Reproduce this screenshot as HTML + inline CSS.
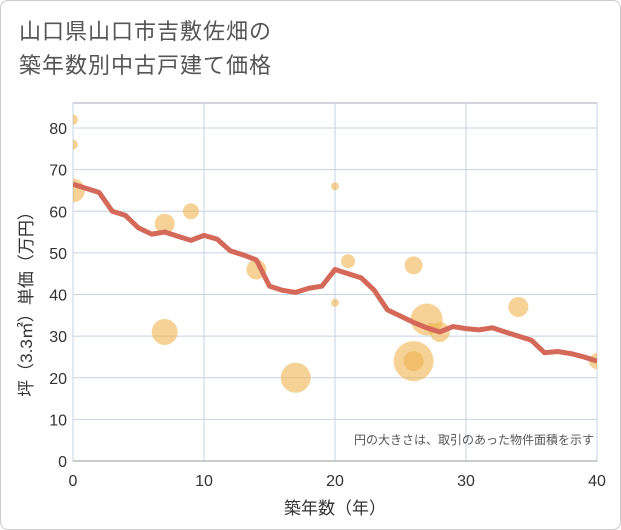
<!DOCTYPE html>
<html><head><meta charset="utf-8"><style>
body{margin:0;background:#fff;}
.wrap{width:619px;height:528px;border:1px solid #ccc;border-radius:8px;position:relative;overflow:hidden;font-family:"Liberation Sans","Noto Sans CJK JP",sans-serif;}
.title{position:absolute;left:18px;top:14px;font-size:22px;line-height:34px;color:#555;letter-spacing:1px;}
</style></head><body>
<div class="wrap">
<div class="title">山口県山口市吉敷佐畑の<br>築年数別中古戸建て価格</div>
<svg id="chart" width="621" height="530" style="position:absolute;left:-1px;top:-1px"><defs><clipPath id="pc"><rect x="73" y="103" width="524" height="358"/></clipPath></defs></svg>
</div>
<script>
const xTicks=[0,10,20,30,40];
const yTicks=[0,10,20,30,40,50,60,70,80];
const lineYears=[0,1,2,3,4,5,6,7,8,9,10,11,12,13,14,15,16,17,18,19,20,21,22,23,24,25,26,27,28,29,30,31,32,33,34,35,36,37,38,39,40];
const linePrices=[66.5,65.5,64.5,60,59,56,54.5,55,54,53,54.2,53.3,50.5,49.5,48.3,42,41,40.5,41.5,42,46,45,44,41,36.3,34.8,33.3,32,31,32.3,31.8,31.5,32,31,30,29,26,26.3,25.8,25,24];
const bubbleYears=[0,0,0,7,9,7,14,17,20,20,21,26,27,28,26,26,27.3,34,40];
const bubblePrices=[82,76,65,57,60,31,46,20,66,38,48,47,34,31,24,24,32,37,24];
const bubbleSizes=[5,5,12,10,8,13,10,15,4,4,7,9,16,10,20,10,5,10,8];
const svg=document.getElementById('chart');
const NS='http://www.w3.org/2000/svg';
const L=73,R=597,T=103,B=461;
const xs=v=>L+(R-L)*v/40;
const ys=v=>B-(B-128)*v/80;
function mk(t,a,par){const e=document.createElementNS(NS,t);for(const k in a)e.setAttribute(k,a[k]);(par||svg).appendChild(e);return e;}
let bg=mk('rect',{x:L,y:T,width:R-L,height:B-T,fill:'#fff',stroke:'#aab','stroke-width':1});


yTicks.forEach(v=>{
 let g=mk('line',{x1:L,x2:R,y1:ys(v),y2:ys(v),stroke:'#c5d3e3','stroke-width':1});
 
 
 let t=mk('text',{x:L-6,y:ys(v)+6,'text-anchor':'end','font-size':16,fill:'#333'});t.textContent=v;
 
 
});
xTicks.forEach(v=>{
 let g=mk('line',{x1:xs(v),x2:xs(v),y1:T,y2:B,stroke:'#c5d3e3','stroke-width':1});
 
 
 let t=mk('text',{x:xs(v),y:B+25,'text-anchor':'middle','font-size':16,fill:'#333'});t.textContent=v;
 
 
});
let ax=mk('line',{x1:L,x2:R,y1:B,y2:B,stroke:'#999','stroke-width':1});


const grp=mk('g',{'clip-path':'url(#pc)'});


bubbleYears.forEach((v,i)=>{
 let c=mk('circle',{cx:xs(v),cy:ys(bubblePrices[i]),r:bubbleSizes[i],fill:'rgba(240,180,80,0.6)'},grp);
 
 
});
let p=mk('polyline',{points:lineYears.map((v,i)=>xs(v)+','+ys(linePrices[i])).join(' '),fill:'none',stroke:'#d4695a','stroke-width':5,'stroke-linejoin':'round'},grp);


let n=mk('text',{x:594,y:444,'text-anchor':'end','font-size':12,fill:'#555'});n.textContent='円の大きさは、取引のあった物件面積を示す';


let xt=mk('text',{x:335,y:514,'text-anchor':'middle','font-size':17,fill:'#333'});xt.textContent='築年数（年）';


let yt=mk('text',{x:0,y:0,'text-anchor':'middle','font-size':17,fill:'#333',transform:'translate(32,300) rotate(-90)'});yt.textContent='坪（3.3㎡）単価（万円）';


</script>
</body></html>
